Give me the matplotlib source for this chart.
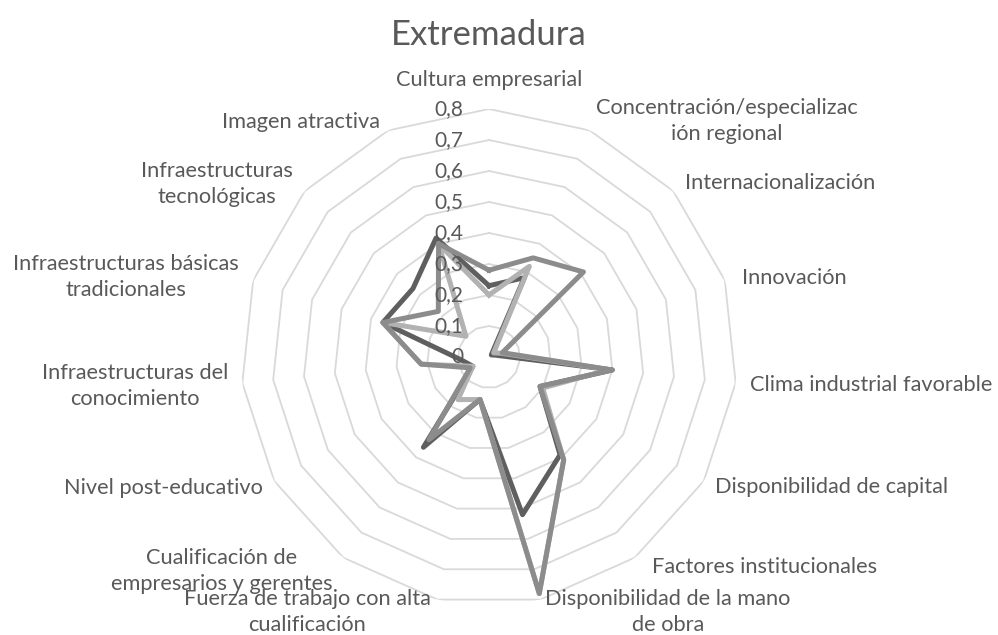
import numpy as np
import matplotlib
matplotlib.use("Agg")
import matplotlib.pyplot as plt

plt.rcParams['font.family'] = ['Lato', 'DejaVu Sans']

# categories, clockwise from the top
categorias = [
    "Cultura empresarial",
    "Concentración/especialización regional",
    "Internacionalización",
    "Innovación",
    "Clima industrial favorable",
    "Disponibilidad de capital",
    "Factores institucionales",
    "Disponibilidad de la mano de obra",
    "Fuerza de trabajo con alta cualificación",
    "Cualificación de empresarios y gerentes",
    "Nivel post-educativo",
    "Infraestructuras del conocimiento",
    "Infraestructuras básicas tradicionales",
    "Infraestructuras tecnológicas",
    "Imagen atractiva",
]

# three series (no legend in the original)
serie_oscura = [0.23, 0.28, 0.01, 0.02, 0.40, 0.19, 0.39, 0.52, 0.14, 0.36, 0.06, 0.09, 0.36, 0.33, 0.42]
serie_media = [0.28, 0.35, 0.41, 0.045, 0.40, 0.19, 0.41, 0.78, 0.14, 0.33, 0.07, 0.22, 0.36, 0.22, 0.40]
serie_clara = [0.20, 0.32, 0.02, 0.04, 0.39, 0.20, 0.41, 0.78, 0.14, 0.17, 0.06, 0.22, 0.36, 0.10, 0.40]

niveles = [0.1, 0.2, 0.3, 0.4, 0.5, 0.6, 0.7, 0.8]
etiquetas_niveles = ["0", "0,1", "0,2", "0,3", "0,4", "0,5", "0,6", "0,7", "0,8"]

W, H = 998, 635
fig = plt.figure(figsize=(W / 100, H / 100), dpi=100)

cx, cy, R = 489, 357, 248
ax = fig.add_axes([(cx - R) / W, (H - cy - R) / H, 2 * R / W, 2 * R / H], projection="polar")
ax.set_theta_offset(np.pi / 2)
ax.set_theta_direction(-1)
ax.set_ylim(0, 0.8)
ax.grid(False)
ax.spines["polar"].set_visible(False)
ax.set_xticks([])
ax.set_yticks([])
ax.patch.set_alpha(0)

n = len(categorias)
ang = np.linspace(0, 2 * np.pi, n, endpoint=False)
ang_c = np.append(ang, ang[0])

# polygon grid
for lv in niveles:
    ax.plot(ang_c, [lv] * (n + 1), color="#d9d9d9", lw=1.3, zorder=1)

def cerrar(v):
    return np.append(v, v[0])

ax.plot(ang_c, cerrar(serie_oscura), color="#5f5f5f", lw=3.6, solid_joinstyle="round", zorder=3)
ax.plot(ang_c, cerrar(serie_clara), color="#b2b2b2", lw=3.6, solid_joinstyle="round", zorder=4)
ax.plot(ang_c, cerrar(serie_media), color="#8c8c8c", lw=3.6, solid_joinstyle="round", zorder=5)

# value labels along the vertical axis
for i, lab in enumerate(etiquetas_niveles):
    ax.text(0, i * 0.1, lab, ha="right", va="center", fontsize=15, color="#595959",
            transform=ax.transData + matplotlib.transforms.ScaledTranslation(-0.26, 0, fig.dpi_scale_trans),
            zorder=6)

tc = "#595959"
fs = 15.7

def px(x, y):
    return x / W, 1 - y / H

label_pos = [
    ("Cultura empresarial", 489, 80),
    ("Concentración/especializac\nión regional", 727, 121),
    ("Internacionalización", 780, 183),
    ("Innovación", 794, 278),
    ("Clima industrial favorable", 871, 385),
    ("Disponibilidad de capital", 832, 487),
    ("Factores institucionales", 765, 567),
    ("Disponibilidad de la mano\nde obra", 668, 612),
    ("Fuerza de trabajo con alta\ncualificación", 307, 612),
    ("Cualificación de\nempresarios y gerentes", 222, 571),
    ("Nivel post-educativo", 163, 488),
    ("Infraestructuras del\nconocimiento", 135, 386),
    ("Infraestructuras básicas\ntradicionales", 126, 277),
    ("Infraestructuras\ntecnológicas", 217, 184),
    ("Imagen atractiva", 301, 122),
]
for txt, x, y in label_pos:
    fig.text(*px(x, y), txt, ha="center", va="center", fontsize=fs, color=tc,
             linespacing=1.4)

fig.text(*px(489, 35), "Extremadura", ha="center", va="center", fontsize=25, color=tc)

fig.savefig("out.png", dpi=100)
